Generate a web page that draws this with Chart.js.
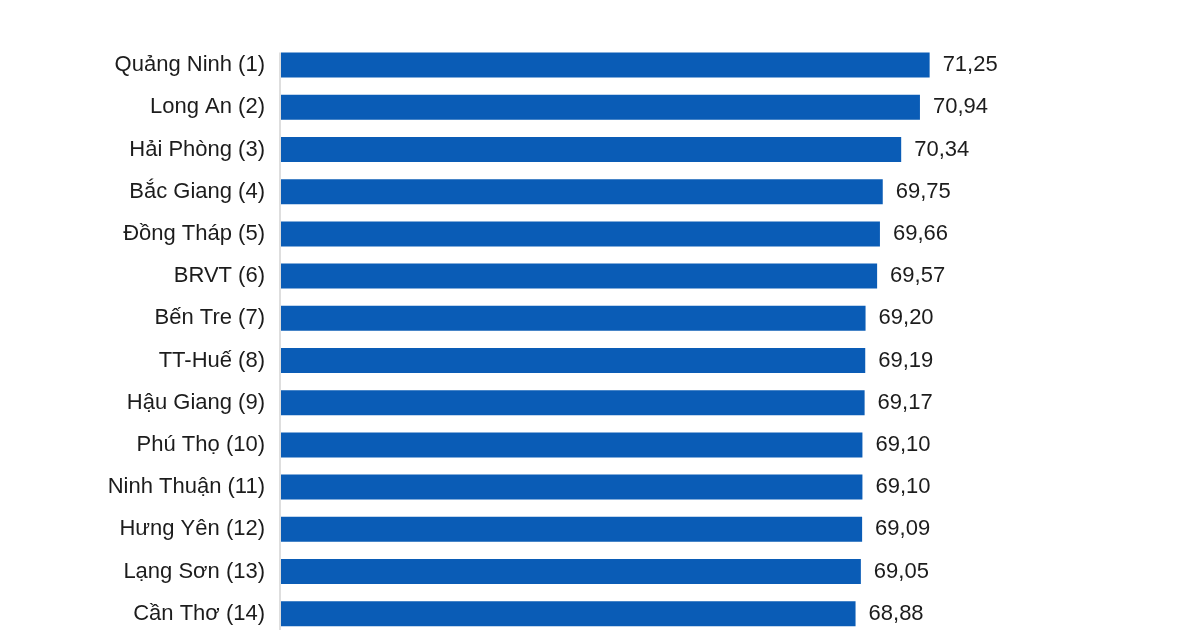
<!DOCTYPE html>
<html>
<head>
<meta charset="utf-8">
<script src="https://cdn.jsdelivr.net/npm/chart.js@4"></script>
<style>
  html, body { margin: 0; padding: 0; background: #fff; overflow: hidden; }
</style>
</head>
<body>
<canvas id="pciChart" width="1200" height="664"></canvas>
<script>
// Province ranking and scores
const provinces = ['Quảng Ninh (1)', 'Long An (2)', 'Hải Phòng (3)', 'Bắc Giang (4)', 'Đồng Tháp (5)',
  'BRVT (6)', 'Bến Tre (7)', 'TT-Huế (8)', 'Hậu Giang (9)', 'Phú Thọ (10)',
  'Ninh Thuận (11)', 'Hưng Yên (12)', 'Lạng Sơn (13)', 'Cần Thơ (14)'];
const scores = [71.25, 70.94, 70.34, 69.75, 69.66, 69.57, 69.20, 69.19, 69.17, 69.10, 69.10, 69.09, 69.05, 68.88];

const textFont = { family: '"Liberation Sans", Arial, sans-serif', size: 22 };

// Value next to the end of each bar, plus the thin axis line
const valueLabels = {
  id: 'valueLabels',
  afterDatasetsDraw(chart) {
    const ctx = chart.ctx;
    const meta = chart.getDatasetMeta(0);
    const first = meta.data[0];
    ctx.save();
    ctx.strokeStyle = '#dedede';
    ctx.lineWidth = 2;
    ctx.beginPath();
    ctx.moveTo(chart.chartArea.left - 1, first.y - first.height / 2);
    ctx.lineTo(chart.chartArea.left - 1, chart.height);
    ctx.stroke();

    ctx.font = textFont.size + 'px ' + textFont.family;
    ctx.fillStyle = '#1c1c1c';
    ctx.textAlign = 'left';
    ctx.textBaseline = 'middle';
    meta.data.forEach((bar, i) => {
      const txt = scores[i].toFixed(2).replace('.', ',');
      ctx.fillText(txt, bar.x + 13, bar.y);
    });
    ctx.restore();
  }
};

const ctx = document.getElementById('pciChart').getContext('2d');
const pciChart = new Chart(ctx, {
  type: 'bar',
  data: {
    labels: provinces,
    datasets: [{
      data: scores,
      backgroundColor: '#0a5cb6',
      categoryPercentage: 1,
      barPercentage: 0.593
    }]
  },
  options: {
    indexAxis: 'y',
    responsive: false,
    animation: false,
    layout: { padding: { top: 44, bottom: 9, right: 100, left: 0 } },
    plugins: { legend: { display: false }, tooltip: { enabled: false } },
    scales: {
      x: { display: false, min: 50.5, max: 76.7 },
      y: {
        afterFit(scale) { scale.width = 281; },
        grid: { display: false, drawTicks: false },
        border: { display: false },
        ticks: { padding: 16, color: '#1c1c1c', font: textFont }
      }
    }
  },
  plugins: [valueLabels]
});
</script>
</body>
</html>
